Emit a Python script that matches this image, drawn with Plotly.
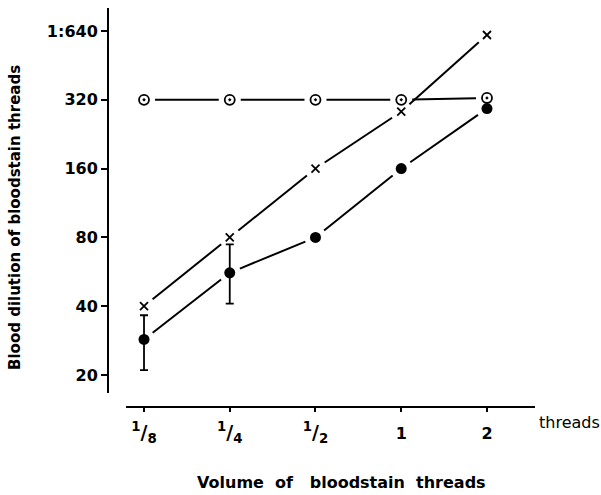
import math
import plotly.graph_objects as go

# ---- data ----
volumes = ["1/8", "1/4", "1/2", "1", "2"]
volume_labels = [
    "<span style='font-size:19px'><sup>1</sup>/<sub>8</sub></span>",
    "<span style='font-size:19px'><sup>1</sup>/<sub>4</sub></span>",
    "<span style='font-size:19px'><sup>1</sup>/<sub>2</sub></span>",
    "1",
    "2",
]
ring_dilution = [320, 320, 320, 320, 326]
cross_dilution = [40, 80, 160, 284, 615]
dot_dilution = [28.6, 56, 80, 160, 293]
dot_err_plus = [7.9, 18.5, 0, 0, 0]
dot_err_minus = [7.6, 15, 0, 0, 0]
y_ticks = [20, 40, 80, 160, 320, 640]
y_tick_labels = ["20", "40", "80", "160", "320", "1:640"]

W, H = 601, 495
FONT = "DejaVu Sans, Liberation Sans, sans-serif"

# axis geometry (pixels / ranges)
X_DOM = (126, 535)
X_RANGE = (-0.21, 4.56)
Y_DOM = (8, 393)
Y_RANGE = (1.222, 2.907)  # log10
PX_PER_X = (X_DOM[1] - X_DOM[0]) / (X_RANGE[1] - X_RANGE[0])
PX_PER_DEC = (Y_DOM[1] - Y_DOM[0]) / (Y_RANGE[1] - Y_RANGE[0])
GAP = 11  # px gap between a line and its symbols

xpos = list(range(len(volumes)))


def gapped_segments(xs, ys):
    """Line pieces between consecutive points, stopping GAP px short of each symbol."""
    sx, sy = [], []
    for i in range(len(xs) - 1):
        lx0, lx1 = xs[i], xs[i + 1]
        ly0, ly1 = math.log10(ys[i]), math.log10(ys[i + 1])
        length = math.hypot((lx1 - lx0) * PX_PER_X, (ly1 - ly0) * PX_PER_DEC)
        f = GAP / length
        sx += [lx0 + f * (lx1 - lx0), lx1 - f * (lx1 - lx0), None]
        sy += [10 ** (ly0 + f * (ly1 - ly0)), 10 ** (ly1 - f * (ly1 - ly0)), None]
    return sx, sy


fig = go.Figure()
for ys in [ring_dilution, cross_dilution, dot_dilution]:
    sx, sy = gapped_segments(xpos, ys)
    fig.add_trace(go.Scatter(x=sx, y=sy, mode="lines", connectgaps=False,
                             line=dict(color="black", width=2), hoverinfo="skip"))

fig.add_trace(go.Scatter(x=xpos, y=ring_dilution, mode="markers",
                         marker=dict(symbol="circle-open-dot", size=10, color="black",
                                     line=dict(width=1.8, color="black"))))
fig.add_trace(go.Scatter(x=xpos, y=cross_dilution, mode="markers",
                         marker=dict(symbol="x-thin-open", size=8, color="black",
                                     line=dict(width=1.8, color="black"))))
fig.add_trace(go.Scatter(x=xpos, y=dot_dilution, mode="markers",
                         marker=dict(symbol="circle", size=11, color="black"),
                         error_y=dict(type="data", array=dot_err_plus, arrayminus=dot_err_minus,
                                      color="black", thickness=1.8, width=4)))

fig.update_layout(
    width=W, height=H, showlegend=False,
    margin=dict(l=0, r=0, t=0, b=0, autoexpand=False),
    paper_bgcolor="white", plot_bgcolor="white",
    font=dict(family=FONT, color="black"),
    xaxis=dict(
        type="linear", domain=[X_DOM[0] / W, X_DOM[1] / W], range=list(X_RANGE),
        anchor="free", position=1 - 407 / H,
        tickvals=xpos, ticktext=volume_labels,
        showline=True, linecolor="black", linewidth=2,
        ticks="outside", ticklen=4, tickwidth=1.5, tickcolor="black",
        showgrid=False, zeroline=False, ticklabelstandoff=8,
        tickfont=dict(size=16, family=FONT, weight="bold"),
    ),
    yaxis=dict(
        type="log", domain=[1 - Y_DOM[1] / H, 1 - Y_DOM[0] / H], range=list(Y_RANGE),
        anchor="free", position=108 / W,
        showline=True, linecolor="black", linewidth=2,
        ticks="outside", ticklen=6, tickwidth=1.5, tickcolor="black",
        tickvals=y_ticks, ticktext=y_tick_labels,
        showgrid=False, zeroline=False,
        tickfont=dict(size=16, family=FONT, weight="bold"),
    ),
    annotations=[
        dict(text="threads", x=537 / W, y=1 - 422 / H, xref="paper", yref="paper",
             xanchor="left", yanchor="middle", showarrow=False,
             font=dict(size=16, family=FONT)),
        dict(text="Volume\u00a0\u00a0of\u00a0\u00a0\u00a0bloodstain\u00a0\u00a0threads",
             x=341 / W, y=1 / H,
             xref="paper", yref="paper", xanchor="center", yanchor="bottom",
             showarrow=False, font=dict(size=16, family=FONT, weight="bold")),
        dict(text="Blood dilution of bloodstain threads", x=15 / W, y=1 - 218 / H,
             xref="paper", yref="paper", xanchor="center", yanchor="middle",
             textangle=-90, showarrow=False,
             font=dict(size=15, family=FONT, weight="bold")),
    ],
)

fig.write_html("out.html", config={"displayModeBar": False},
               post_script="document.body.style.margin='0';")
